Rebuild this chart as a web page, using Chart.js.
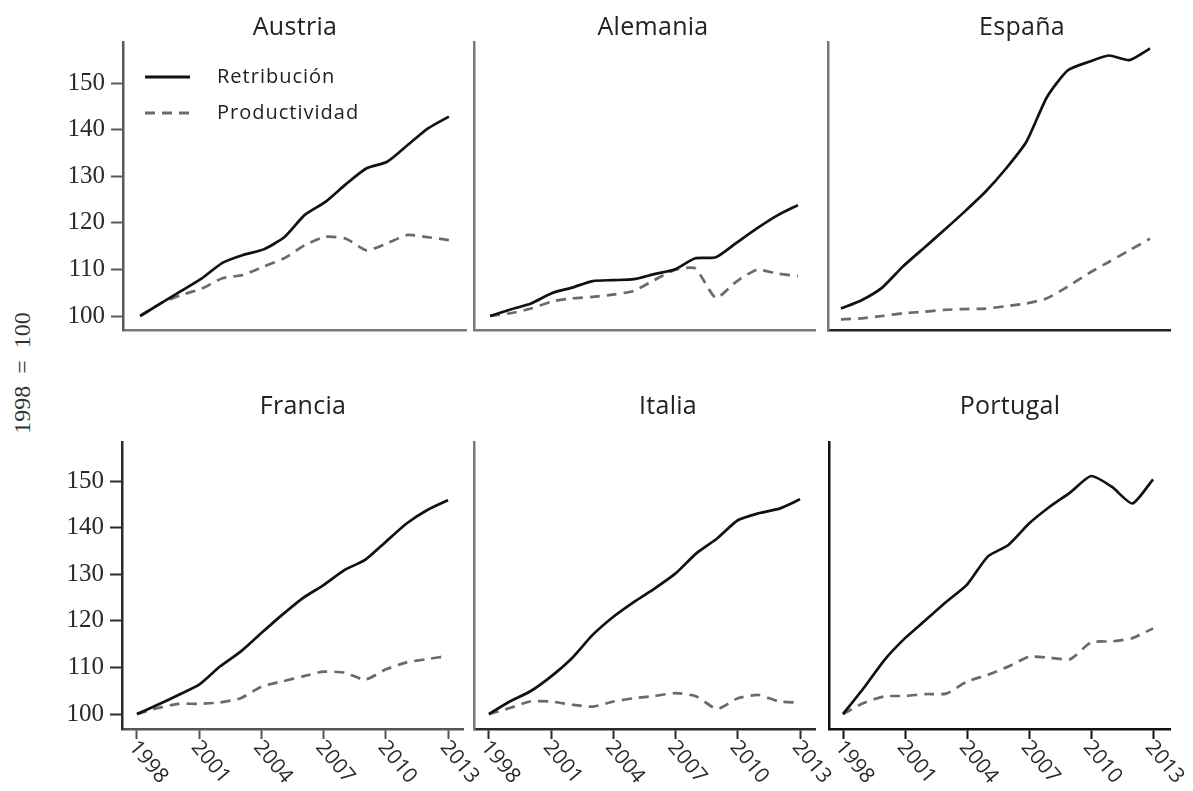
<!DOCTYPE html>
<html>
<head>
<meta charset="utf-8">
<script src="https://cdn.jsdelivr.net/npm/chart.js@4.4.1/dist/chart.umd.min.js"></script>
<style>
  html, body { margin: 0; padding: 0; background: #fff; }
  body { width: 1193px; height: 791px; position: relative; overflow: hidden; }
  .cell { position: absolute; }
  .cell canvas { position: absolute; left: 0; top: 0; }
  #ytitle {
    position: absolute; left: 22px; top: 373px;
    transform: translate(-50%, -50%) rotate(-90deg);
    font-family: "Liberation Serif", serif; font-size: 24px; color: #333;
    white-space: nowrap; word-spacing: 6px;
  }
</style>
</head>
<body>
<div id="ytitle">1998 = 100</div>
<script>
// ---- data: index 1998 = 100 ----
const years = [1998, 1999, 2000, 2001, 2002, 2003, 2004, 2005, 2006, 2007, 2008, 2009, 2010, 2011, 2012, 2013];
const yearTicks = [1998, 2001, 2004, 2007, 2010, 2013];
const yearTickLabels = ['1998', '2001', '2004', '2007', '2010', '2013'];
const indexTicks = [100, 110, 120, 130, 140, 150];
const indexTickLabels = ['100', '110', '120', '130', '140', '150'];
const seriesNames = ['Retribución', 'Productividad'];
const countries = ['Austria', 'Alemania', 'España', 'Francia', 'Italia', 'Portugal'];

const austriaRetribucion   = [100, 102.7, 105.4, 108.1, 111.4, 113.1, 114.3, 116.9, 121.7, 124.5, 128.3, 131.7, 133.1, 136.7, 140.3, 142.8];
const austriaProductividad = [100, 102.7, 104.5, 105.9, 108.1, 108.8, 110.6, 112.4, 115.2, 117.0, 116.6, 114.1, 115.6, 117.4, 116.9, 116.3];

const alemaniaRetribucion   = [100, 101.4, 102.7, 104.9, 106.1, 107.5, 107.7, 107.9, 109.0, 110.0, 112.4, 112.6, 115.7, 118.8, 121.6, 123.8];
const alemaniaProductividad = [100, 100.6, 101.6, 103.1, 103.8, 104.1, 104.6, 105.4, 107.7, 109.9, 110.2, 103.9, 107.4, 109.9, 109.1, 108.6];

const espanaRetribucion   = [101.6, 103.4, 106.1, 110.6, 114.5, 118.4, 122.4, 126.6, 131.6, 137.4, 147.0, 152.7, 154.5, 155.9, 154.9, 157.4];
const espanaProductividad = [99.3, 99.5, 100.0, 100.6, 100.9, 101.3, 101.5, 101.6, 102.1, 102.7, 103.8, 106.3, 109.1, 111.6, 114.1, 116.6];

const franciaRetribucion   = [100, 102.0, 104.1, 106.3, 110.2, 113.4, 117.4, 121.3, 124.9, 127.7, 130.9, 133.1, 137.0, 140.9, 143.8, 145.9];
const franciaProductividad = [100, 101.3, 102.2, 102.2, 102.5, 103.4, 105.9, 107.0, 108.1, 109.1, 108.9, 107.4, 109.6, 111.1, 111.8, 112.5];

const italiaRetribucion   = [100, 102.7, 104.9, 108.1, 112.0, 117.0, 120.9, 124.1, 127.0, 130.2, 134.5, 137.7, 141.6, 143.1, 144.1, 146.1];
const italiaProductividad = [100, 101.3, 102.7, 102.7, 102.0, 101.6, 102.7, 103.4, 103.9, 104.5, 103.8, 101.1, 103.4, 104.1, 102.7, 102.5];

const portugalRetribucion   = [100, 105.6, 111.6, 116.3, 120.2, 124.1, 127.8, 133.8, 136.3, 140.9, 144.5, 147.6, 151.1, 148.8, 145.2, 150.4];
const portugalProductividad = [100, 102.4, 103.8, 103.9, 104.3, 104.4, 107.0, 108.4, 110.2, 112.3, 112.1, 111.8, 115.4, 115.6, 116.3, 118.4];

// ---- panel layout (canvas cell and plot box, page pixels) ----
const panels = [
  { title: countries[0], ret: austriaRetribucion,  prod: austriaProductividad,
    cell: { x: 0,   y: 0,   w: 500, h: 395 }, plot: { l: 123, r: 466,  t: 42,  b: 330 },
    titleX: 295, yLabels: true,  xLabels: false, legend: true,
    yColor: '#5a5a5a', xColor: '#7a7a7a', yMin: 97.0, yMax: 158.8, xMin: 1997.17, xMax: 2013.83 },
  { title: countries[1], ret: alemaniaRetribucion, prod: alemaniaProductividad,
    cell: { x: 470, y: 0,   w: 380, h: 395 }, plot: { l: 474, r: 815,  t: 42,  b: 330 },
    titleX: 653, yLabels: false, xLabels: false, legend: false,
    yColor: '#7a7a7a', xColor: '#7a7a7a', yMin: 97.0, yMax: 158.8, xMin: 1997.22, xMax: 2013.83 },
  { title: countries[2], ret: espanaRetribucion,   prod: espanaProductividad,
    cell: { x: 822, y: 0,   w: 371, h: 395 }, plot: { l: 828, r: 1170, t: 42,  b: 330 },
    titleX: 1022, yLabels: false, xLabels: false, legend: false,
    yColor: '#7a7a7a', xColor: '#222', yMin: 97.0, yMax: 158.8, xMin: 1997.37, xMax: 2013.97 },
  { title: countries[3], ret: franciaRetribucion,  prod: franciaProductividad,
    cell: { x: 0,   y: 395, w: 500, h: 396 }, plot: { l: 122, r: 463,  t: 442, b: 729 },
    titleX: 303, yLabels: true,  xLabels: true,  legend: false,
    yColor: '#2a2a2a', xColor: '#555', yMin: 96.8, yMax: 158.4, xMin: 1997.28, xMax: 2013.72 },
  { title: countries[4], ret: italiaRetribucion,   prod: italiaProductividad,
    cell: { x: 470, y: 395, w: 380, h: 396 }, plot: { l: 474, r: 815,  t: 442, b: 729 },
    titleX: 668, yLabels: false, xLabels: true,  legend: false,
    yColor: '#7a7a7a', xColor: '#2a2a2a', yMin: 96.8, yMax: 158.4, xMin: 1997.28, xMax: 2013.72 },
  { title: countries[5], ret: portugalRetribucion, prod: portugalProductividad,
    cell: { x: 822, y: 395, w: 371, h: 396 }, plot: { l: 829, r: 1170, t: 442, b: 729 },
    titleX: 1010, yLabels: false, xLabels: true,  legend: false,
    yColor: '#111', xColor: '#111', yMin: 96.8, yMax: 158.4, xMin: 1997.32, xMax: 2013.82 }
];

const SANS = '"Open Sans", "Noto Sans", sans-serif';
const SERIF = '"Liberation Serif", "Times New Roman", serif';
const solidStyle  = { color: '#111', width: 2.7, dash: [] };
const dashedStyle = { color: '#6a6a6a', width: 2.7, dash: [10, 7] };

// panel title, centred at a given x
const panelTitle = {
  id: 'panelTitle',
  afterDraw(chart, args, o) {
    const ctx = chart.ctx;
    ctx.save();
    ctx.font = '25px ' + SANS;
    ctx.letterSpacing = '0.3px';
    ctx.fillStyle = '#222';
    ctx.textAlign = 'center';
    ctx.textBaseline = 'alphabetic';
    ctx.fillText(o.text, o.x, o.y);
    ctx.restore();
  }
};

// year labels hanging below the x-axis, turned clockwise
const hangingYearLabels = {
  id: 'hangingYearLabels',
  afterDraw(chart, args, o) {
    if (!o.show) return;
    const xs = chart.scales.x, ctx = chart.ctx;
    ctx.save();
    ctx.font = '21px ' + SANS;
    ctx.fillStyle = '#2a2a2a';
    ctx.textAlign = 'left';
    ctx.textBaseline = 'top';
    xs.ticks.forEach((t, i) => {
      const px = xs.getPixelForValue(t.value);
      ctx.save();
      ctx.translate(px + 4, xs.top + 8);
      ctx.rotate(50 * Math.PI / 180);
      ctx.fillText(yearTickLabels[i], 0, 0);
      ctx.restore();
    });
    ctx.restore();
  }
};

// line-style key inside the first panel
const seriesKey = {
  id: 'seriesKey',
  afterDraw(chart, args, o) {
    if (!o.show) return;
    const ctx = chart.ctx;
    const rows = [{ y: o.y, s: solidStyle, name: seriesNames[0] },
                  { y: o.y + 36, s: dashedStyle, name: seriesNames[1] }];
    ctx.save();
    rows.forEach(r => {
      ctx.beginPath();
      ctx.strokeStyle = r.s.color;
      ctx.lineWidth = 3;
      ctx.setLineDash(r.s.dash);
      ctx.moveTo(o.x, r.y);
      ctx.lineTo(o.x + 45, r.y);
      ctx.stroke();
      ctx.setLineDash([]);
      ctx.font = '20px ' + SANS;
      ctx.letterSpacing = '1px';
      ctx.fillStyle = '#222';
      ctx.textAlign = 'left';
      ctx.textBaseline = 'middle';
      ctx.fillText(r.name, o.x + 72, r.y);
    });
    ctx.restore();
  }
};

panels.forEach(p => {
  const wrap = document.createElement('div');
  wrap.className = 'cell';
  wrap.style.left = p.cell.x + 'px';
  wrap.style.top = p.cell.y + 'px';
  wrap.style.width = p.cell.w + 'px';
  wrap.style.height = p.cell.h + 'px';
  const cv = document.createElement('canvas');
  cv.width = p.cell.w;
  cv.height = p.cell.h;
  cv.style.width = p.cell.w + 'px';
  cv.style.height = p.cell.h + 'px';
  wrap.appendChild(cv);
  document.body.appendChild(wrap);

  const yAxisWidth = p.plot.l - p.cell.x;
  const xAxisHeight = p.cell.y + p.cell.h - p.plot.b;

  new Chart(cv, {
    type: 'line',
    data: {
      datasets: [
        { label: seriesNames[0], data: years.map((yr, i) => ({ x: yr, y: p.ret[i] })),
          borderColor: solidStyle.color, borderWidth: solidStyle.width, borderDash: solidStyle.dash,
          pointRadius: 0, tension: 0.2, fill: false },
        { label: seriesNames[1], data: years.map((yr, i) => ({ x: yr, y: p.prod[i] })),
          borderColor: dashedStyle.color, borderWidth: dashedStyle.width, borderDash: dashedStyle.dash,
          pointRadius: 0, tension: 0.2, fill: false }
      ]
    },
    options: {
      responsive: false,
      maintainAspectRatio: false,
      animation: false,
      devicePixelRatio: 1,
      events: [],
      layout: { padding: { left: 0, bottom: 0, top: p.plot.t - p.cell.y, right: p.cell.x + p.cell.w - p.plot.r } },
      scales: {
        x: {
          type: 'linear', min: p.xMin, max: p.xMax,
          afterBuildTicks: s => { s.ticks = yearTicks.map(v => ({ value: v })); },
          afterFit: s => { s.height = xAxisHeight; },
          ticks: { display: false },
          grid: { drawOnChartArea: false, drawTicks: p.xLabels, tickLength: 10,
                  tickColor: p.xColor, tickWidth: 2 },
          border: { display: true, color: p.xColor, width: 2.5 }
        },
        y: {
          type: 'linear', min: p.yMin, max: p.yMax,
          afterBuildTicks: s => { s.ticks = indexTicks.map(v => ({ value: v })); },
          afterFit: s => { s.width = yAxisWidth; },
          ticks: {
            display: p.yLabels, padding: 6, color: '#2a2a2a',
            font: { family: SERIF, size: 25 },
            callback: (v) => indexTickLabels[indexTicks.indexOf(v)]
          },
          grid: { drawOnChartArea: false, drawTicks: p.yLabels, tickLength: 12,
                  tickColor: p.yColor, tickWidth: 2 },
          border: { display: true, color: p.yColor, width: 2.5 }
        }
      },
      plugins: {
        legend: { display: false },
        tooltip: { enabled: false },
        title: { display: false },
        panelTitle: { text: p.title, x: p.titleX - p.cell.x, y: (p.cell.y === 0 ? 35 : 414) - p.cell.y },
        hangingYearLabels: { show: p.xLabels },
        seriesKey: { show: p.legend, x: 145 - p.cell.x, y: 77 - p.cell.y }
      }
    },
    plugins: [panelTitle, hangingYearLabels, seriesKey]
  });
});
</script>
</body>
</html>
